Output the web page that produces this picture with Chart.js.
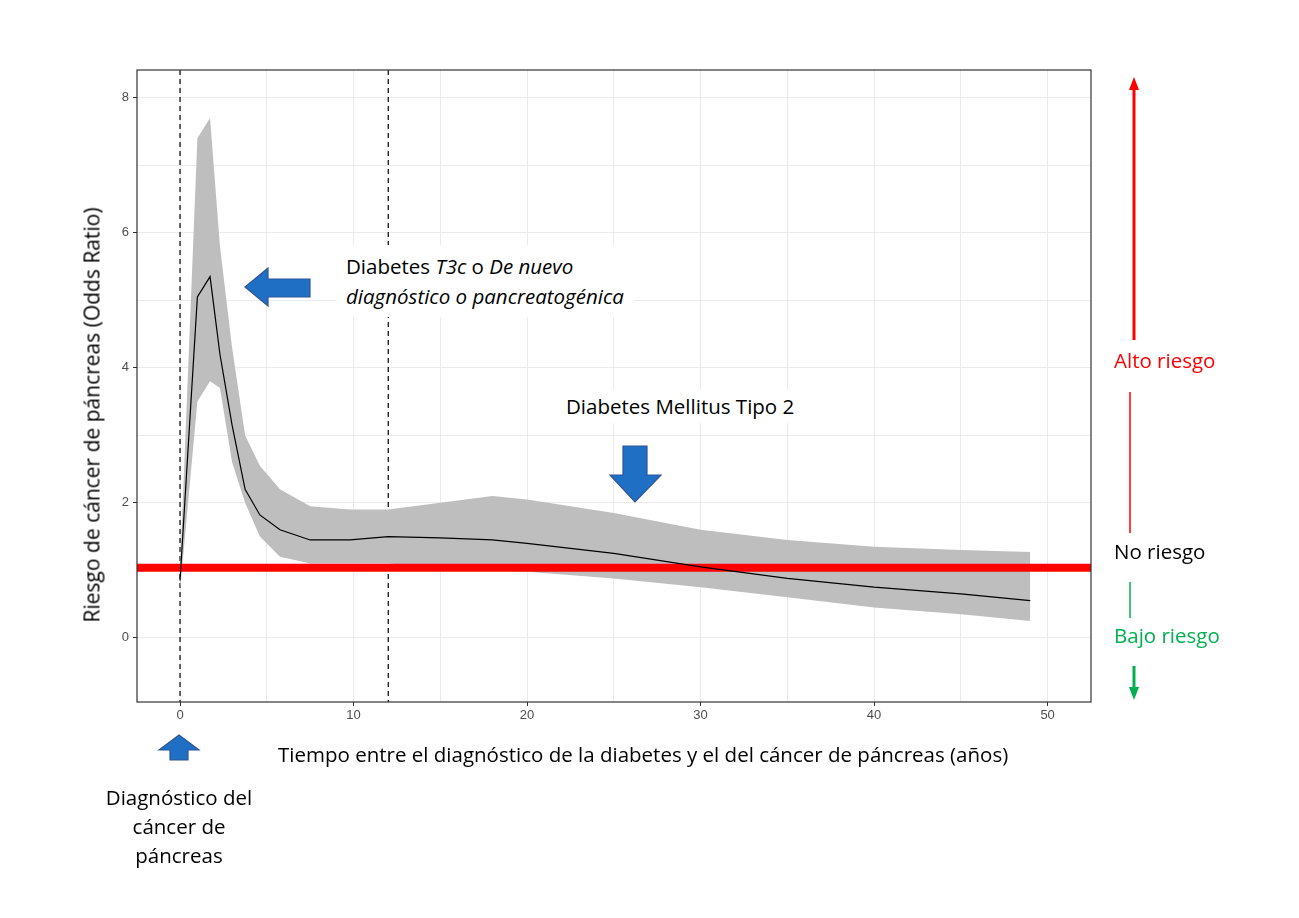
<!DOCTYPE html>
<html><head><meta charset="utf-8">
<script src="https://cdn.jsdelivr.net/npm/chart.js@4"></script>
<style>
body{margin:0;background:#fff;width:1299px;height:918px;overflow:hidden;position:relative;font-family:"Open Sans",Lato,sans-serif}
#c{position:absolute;left:0;top:0}
.t{position:absolute;font-size:20.5px;color:#000;white-space:nowrap;line-height:1}
.box{background:#fff;padding:6px 10px}
</style></head><body>
<canvas id="c" width="1299" height="918"></canvas>
<div class="t box" style="left:336px;top:245px;line-height:30px">Diabetes <i>T3c</i> o <i>De nuevo</i><br><i>diagnóstico o pancreatogénica</i></div>
<div class="t box" style="left:556px;top:390px">Diabetes Mellitus Tipo 2</div>
<div class="t" style="left:1114px;top:350px;color:#ff0000">Alto riesgo</div>
<div class="t" style="left:1114px;top:541px">No riesgo</div>
<div class="t" style="left:1114px;top:625px;color:#00b050">Bajo riesgo</div>
<div class="t" style="left:278px;top:744px">Tiempo entre el diagnóstico de la diabetes y el del cáncer de páncreas (años)</div>
<div class="t" style="left:79px;top:783px;width:200px;text-align:center;line-height:29px">Diagnóstico del<br>cáncer de<br>páncreas</div>
<div class="t" style="left:92px;top:415px;font-size:21px;transform:translate(-50%,-50%) rotate(-90deg)">Riesgo de cáncer de páncreas (Odds Ratio)</div>
<script>
const years = [0,1,1.73,2.3,3,3.75,4.6,5.76,7.5,9.8,12,15,18,20,25,30,35,40,45,49];
const oddsRatio = [0.85,5.05,5.35,4.2,3.15,2.2,1.82,1.6,1.45,1.45,1.5,1.48,1.45,1.4,1.25,1.05,0.88,0.75,0.65,0.55];
const upperCI = [1.0,7.4,7.7,5.8,4.3,3.0,2.55,2.2,1.95,1.9,1.9,2.0,2.1,2.05,1.85,1.6,1.45,1.35,1.3,1.27];
const lowerCI = [0.7,3.5,3.8,3.7,2.6,2.0,1.5,1.2,1.1,1.1,1.1,1.05,1.0,0.98,0.88,0.75,0.6,0.45,0.35,0.25];
const refOR = 1.04;
const dashedYears = [0,12];
const xRange = [-2.48,52.5];
const yRange = [-0.95,8.41];
const pts = a => years.map((x,i)=>({x, y:a[i]}));

function arrow(ctx, pts, color){ctx.fillStyle=color;ctx.strokeStyle='#2f5597';ctx.lineWidth=1.2;ctx.beginPath();pts.forEach((p,i)=>i?ctx.lineTo(p[0],p[1]):ctx.moveTo(p[0],p[1]));ctx.closePath();ctx.fill();ctx.stroke();}

const deco = {
  id:'deco',
  beforeDatasetsDraw(ch){
    const {ctx,chartArea:a,scales:{x}}=ch;
    ctx.save();ctx.strokeStyle='#000';ctx.lineWidth=1.2;ctx.setLineDash([5,4]);
    dashedYears.forEach(v=>{const px=x.getPixelForValue(v);ctx.beginPath();ctx.moveTo(px,a.top);ctx.lineTo(px,a.bottom);ctx.stroke();});
    ctx.restore();
  },
  afterDraw(ch){
    const {ctx,chartArea:a}=ch;
    ctx.save();
    ctx.strokeStyle='#333';ctx.lineWidth=1.2;ctx.strokeRect(a.left,a.top,a.right-a.left,a.bottom-a.top);
    const b='#1f6fc5';
    arrow(ctx,[[245,287],[268,268],[268,279],[310,279],[310,297],[268,297],[268,306]],b);
    arrow(ctx,[[623,446],[647,446],[647,475],[661,475],[635,502],[610,475],[623,475]],b);
    arrow(ctx,[[179,735],[199,750],[188,750],[188,760],[170,760],[170,750],[159,750]],b);
    ctx.strokeStyle='#ff0000';ctx.fillStyle='#ff0000';ctx.lineWidth=3;
    ctx.beginPath();ctx.moveTo(1134,340);ctx.lineTo(1134,86);ctx.stroke();
    ctx.beginPath();ctx.moveTo(1134,77);ctx.lineTo(1129,90);ctx.lineTo(1139,90);ctx.closePath();ctx.fill();
    ctx.lineWidth=1.5;ctx.beginPath();ctx.moveTo(1130,392);ctx.lineTo(1130,533);ctx.stroke();
    ctx.strokeStyle='#00b050';ctx.fillStyle='#00b050';
    ctx.beginPath();ctx.moveTo(1130,582);ctx.lineTo(1130,618);ctx.stroke();
    ctx.lineWidth=3;ctx.beginPath();ctx.moveTo(1134,666);ctx.lineTo(1134,690);ctx.stroke();
    ctx.beginPath();ctx.moveTo(1134,700);ctx.lineTo(1129,687);ctx.lineTo(1139,687);ctx.closePath();ctx.fill();
    ctx.restore();
  }
};

new Chart(document.getElementById('c'),{
  type:'line',
  data:{datasets:[
    {data:pts(upperCI),borderWidth:0,pointRadius:0,fill:'+1',backgroundColor:'#bebebe',order:3},
    {data:pts(lowerCI),borderWidth:0,pointRadius:0,fill:false,order:3},
    {data:[{x:xRange[0],y:refOR},{x:xRange[1],y:refOR}],borderColor:'#ff0000',borderWidth:8,pointRadius:0,order:2},
    {data:pts(oddsRatio),borderColor:'#000',borderWidth:1.2,pointRadius:0,order:1}
  ]},
  options:{
    responsive:false,animation:false,
    plugins:{legend:{display:false},tooltip:{enabled:false}},
    layout:{padding:{left:80,right:208,top:70,bottom:196}},
    scales:{
      x:{type:'linear',min:xRange[0],max:xRange[1],afterFit(s){s.height=20;},
        ticks:{autoSkip:false,color:'#4d4d4d',font:{size:13},padding:2,callback:v=>v%10===0?v:''},
        afterBuildTicks(s){s.ticks=[];for(let v=0;v<=50;v+=5)s.ticks.push({value:v});},
        grid:{color:'#ebebeb',tickLength:4,tickColor:c=>c.tick&&c.tick.value%10===0?'#333':'rgba(0,0,0,0)'},border:{display:false}},
      y:{min:yRange[0],max:yRange[1],afterFit(s){s.width=57;},
        afterBuildTicks(s){s.ticks=[];for(let v=0;v<=8;v++)s.ticks.push({value:v});},
        ticks:{color:'#4d4d4d',font:{size:13},padding:4,callback:v=>v%2===0?v:''},
        grid:{color:'#ebebeb',tickLength:4,tickColor:c=>c.tick&&c.tick.value%2===0?'#333':'rgba(0,0,0,0)'},border:{display:false}}
    }
  },
  plugins:[deco]
});
</script></body></html>
